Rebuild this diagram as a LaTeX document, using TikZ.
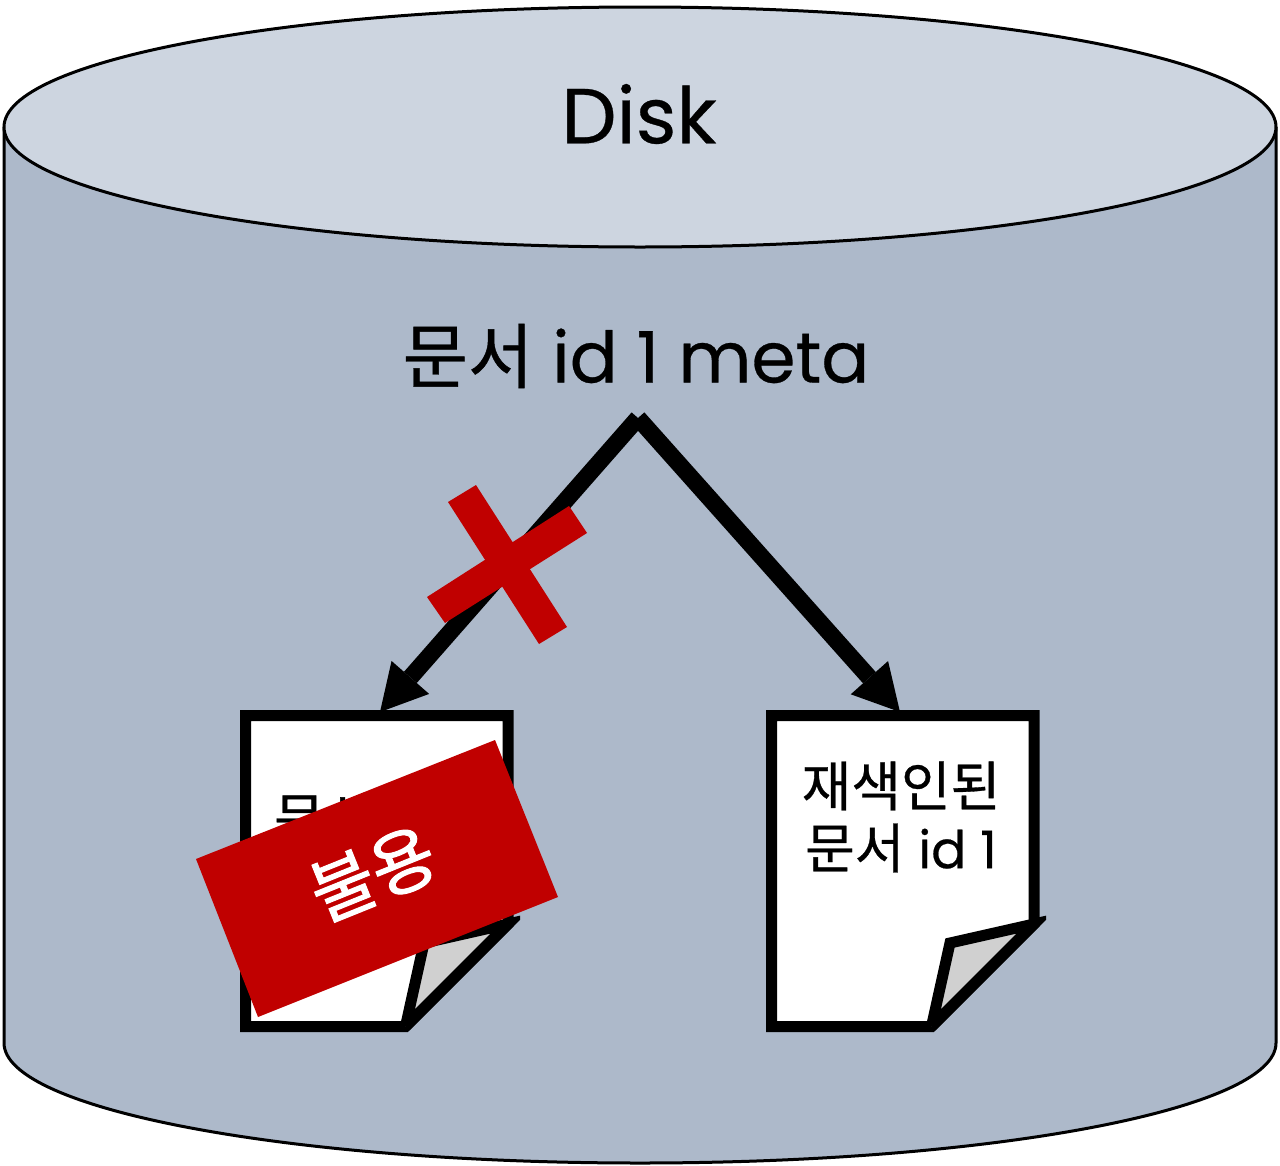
\documentclass[tikz,border=0pt]{standalone}
\usepackage{fontspec}
\setmainfont{Poppins}[FakeBold=0.4,AutoFakeBold=false]
\newfontfamily\kr{Noto Sans CJK KR}[FakeBold=0.6]
\newfontfamily\krstamp{Noto Sans CJK KR}[FakeBold=1.4]
\usetikzlibrary{arrows.meta}
\definecolor{diskbody}{HTML}{ADB9CA}
\definecolor{disktop}{HTML}{CDD5E0}
\definecolor{xred}{HTML}{C00000}
\definecolor{foldgray}{HTML}{D0D0D0}
\tikzset{
 x=1pt,y=-1pt,
 disk/.style={draw=black,line width=3pt},
 page/.style={draw=black,line width=11pt,fill=white,miter limit=10},
 fold/.style={draw=black,line width=11pt,fill=foldgray,miter limit=10},
 conn/.style={draw=black,line width=17pt,-{Triangle[length=46pt,width=50pt,line width=0pt]}},
 label/.style={inner sep=0pt,text=black,align=center},
 barx/.style={fill=xred,draw=none},
}
\begin{document}
\begin{tikzpicture}
\useasboundingbox (0,0) rectangle (1280,1165);
\fill[white] (0,0) rectangle (1280,1165);
\draw[disk,fill=diskbody] (4,127) -- (4,1043) arc[x radius=636,y radius=120,start angle=180,end angle=0] -- (1276,127);
\draw[disk,fill=disktop] (640,127) ellipse[x radius=636,y radius=120];
\node[label,font=\fontsize{78}{84}\selectfont] (disklabel) at (639,114) {Disk};
\node[label,font=\fontsize{71}{78}\selectfont] (meta) at (636,356) {{\kr 문서} id 1 meta};
\coordinate (apex) at (638,418);
% left page
\draw[page] (245.5,715.5) -- (508,715.5) -- (508,924) -- (405.5,1026.5) -- (245.5,1026.5) -- cycle;
\node[label,anchor=west,font=\kr\fontsize{55}{62}\selectfont] (oldtext) at (274,818) {문서};
\begin{scope}
\clip (0,0) rectangle (520,1165);
\draw[fold] (405.5,1026.5) -- (424,943) -- (508,924) -- (405.5,1026.5);
\end{scope}
% right page
\draw[page] (771.5,715.5) -- (1034,715.5) -- (1034,924) -- (931.5,1026.5) -- (771.5,1026.5) -- cycle;
\begin{scope}
\clip (0,0) rectangle (1046,1165);
\draw[fold] (931.5,1026.5) -- (950,943) -- (1034,924) -- (931.5,1026.5);
\end{scope}
\node[label,font=\fontsize{52}{62}\selectfont] (newtext) at (901,817) {{\kr\fontsize{54}{62}\selectfont 재색인된}\\{\kr\fontsize{54}{62}\selectfont 문서} id 1};
\coordinate (lefttip) at (380,712);
\coordinate (righttip) at (900,712);
\draw[conn] (apex) -- (lefttip);
\draw[conn] (apex) -- (righttip);
% cross
\fill[barx] (476,485) -- (448,502) -- (539,644) -- (567,627) -- cycle;
\fill[barx] (427,597) -- (569,506) -- (587,533) -- (445,623) -- cycle;
% stamp
\fill[xred] (196,859) -- (495,740) -- (558,897) -- (258,1017) -- cycle;
\node[label,text=white,font=\krstamp\fontsize{70}{80}\selectfont,rotate=22] (stamp) at (373,874) {불용};
\end{tikzpicture}
\end{document}
